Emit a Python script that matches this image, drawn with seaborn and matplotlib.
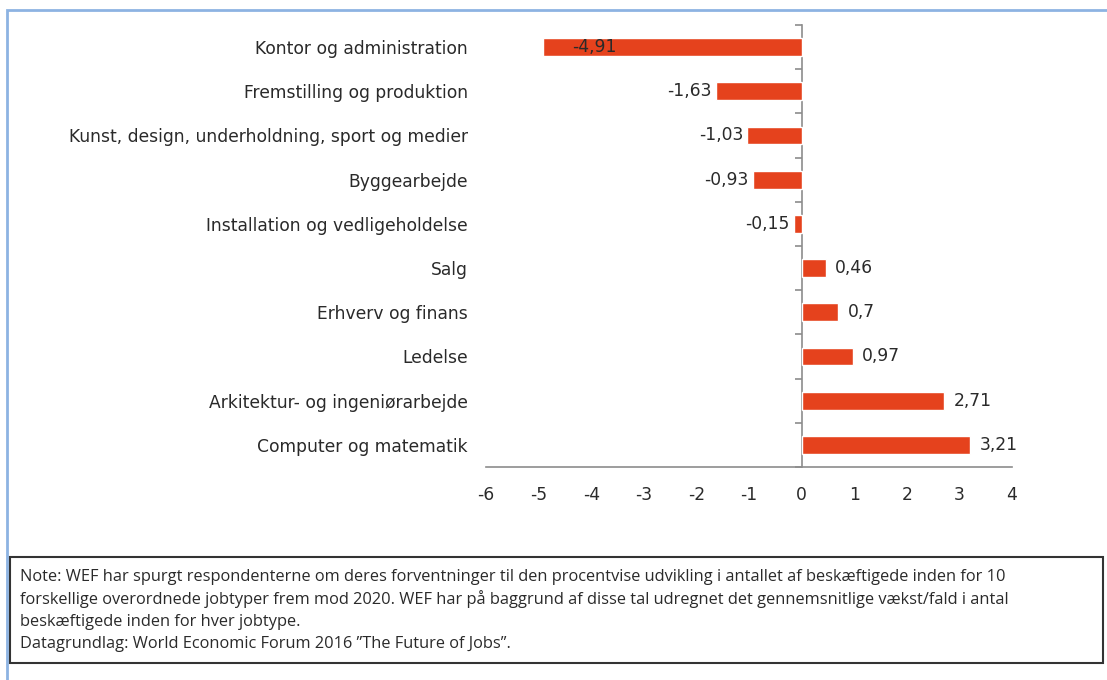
import matplotlib
matplotlib.use("Agg")
import matplotlib.pyplot as plt
import seaborn as sns
import pandas as pd
from matplotlib.patches import Rectangle

# -----------------------------
# DATA
# -----------------------------
CATEGORIES = [
    "Kontor og administration",
    "Fremstilling og produktion",
    "Kunst, design, underholdning, sport og medier",
    "Byggearbejde",
    "Installation og vedligeholdelse",
    "Salg",
    "Erhverv og finans",
    "Ledelse",
    "Arkitektur- og ingeniørarbejde",
    "Computer og matematik",
]
VALUES = [-4.91, -1.63, -1.03, -0.93, -0.15, 0.46, 0.7, 0.97, 2.71, 3.21]
X_TICKS = [-6, -5, -4, -3, -2, -1, 0, 1, 2, 3, 4]

NOTE_LINES = [
    "Note: WEF har spurgt respondenterne om deres forventninger til den procentvise udvikling i antallet af beskæftigede inden for 10",
    "forskellige overordnede jobtyper frem mod 2020. WEF har på baggrund af disse tal udregnet det gennemsnitlige vækst/fald i antal",
    "beskæftigede inden for hver jobtype.",
    "Datagrundlag: World Economic Forum 2016 \u201dThe Future of Jobs\u201d.",
]

# -----------------------------
# STYLE
# -----------------------------
sns.set_theme(style="white")
plt.rcParams["font.family"] = ["DejaVu Sans"]
plt.rcParams["axes.unicode_minus"] = False

BAR_COLOR = "#E5421D"
AXIS_COLOR = "#8C8C8C"
TEXT_COLOR = "#2a2a2a"
FS = 12.3

df = pd.DataFrame({"Kategori": CATEGORIES, "Værdi": VALUES})

fig = plt.figure(figsize=(11.07, 6.8), dpi=100)
ax = fig.add_axes([486 / 1107, 1 - 467 / 680, 526 / 1107, 442 / 680])

sns.barplot(data=df, y="Kategori", x="Værdi", orient="h", color=BAR_COLOR,
            width=0.4, saturation=1, ax=ax)

ax.set_xlim(-6, 4)
ax.set_ylim(len(CATEGORIES) - 0.5, -0.5)
ax.set_xticks(X_TICKS)
ax.set_xticklabels([str(t) for t in X_TICKS])
ax.set_xlabel("")
ax.set_ylabel("")

for s in ["top", "right", "left"]:
    ax.spines[s].set_visible(False)
ax.spines["bottom"].set_color(AXIS_COLOR)
ax.spines["bottom"].set_linewidth(1.2)
ax.tick_params(axis="x", direction="in", length=5, width=1.2, color=AXIS_COLOR,
               labelsize=FS, labelcolor=TEXT_COLOR, pad=14)
ax.tick_params(axis="y", length=0, labelsize=FS, labelcolor=TEXT_COLOR, pad=13)

# zero line with category separators
sec = ax.secondary_yaxis(0.6)
sec.set_yticks([i + 0.5 for i in range(-1, len(CATEGORIES))])
sec.set_yticklabels([])
for sp in sec.spines.values():
    sp.set_color(AXIS_COLOR)
    sp.set_linewidth(1.2)
sec.tick_params(axis="y", direction="in", length=5, width=1.2, color=AXIS_COLOR)

# value labels
for i, v in enumerate(VALUES):
    txt = f"{v:g}".replace(".", ",")
    if v < -4:
        ax.text(v + 0.55, i, txt, ha="left", va="center", fontsize=FS, color=TEXT_COLOR)
    elif v < 0:
        ax.text(v - 0.08, i, txt, ha="right", va="center", fontsize=FS, color=TEXT_COLOR)
    else:
        ax.text(v + 0.18, i, txt, ha="left", va="center", fontsize=FS, color=TEXT_COLOR)

# outer blue frame
fig.patches.append(Rectangle((7 / 1107, -0.1), 1.2, 1 - 10 / 680 + 0.1,
                             transform=fig.transFigure, fill=False,
                             edgecolor="#8DB3E2", linewidth=2))

# note box
fig.patches.append(Rectangle((10 / 1107, 1 - 663 / 680), 1093 / 1107, 106 / 680,
                             transform=fig.transFigure, fill=False,
                             edgecolor="#333333", linewidth=1.5))
for k, line in enumerate(NOTE_LINES):
    fig.text(20 / 1107, 1 - (577 + 22.3 * k) / 680, line, ha="left", va="center",
             fontsize=11.8, color=TEXT_COLOR, family=["Open Sans", "DejaVu Sans"])

fig.savefig("out.png", dpi=100, facecolor="white")
